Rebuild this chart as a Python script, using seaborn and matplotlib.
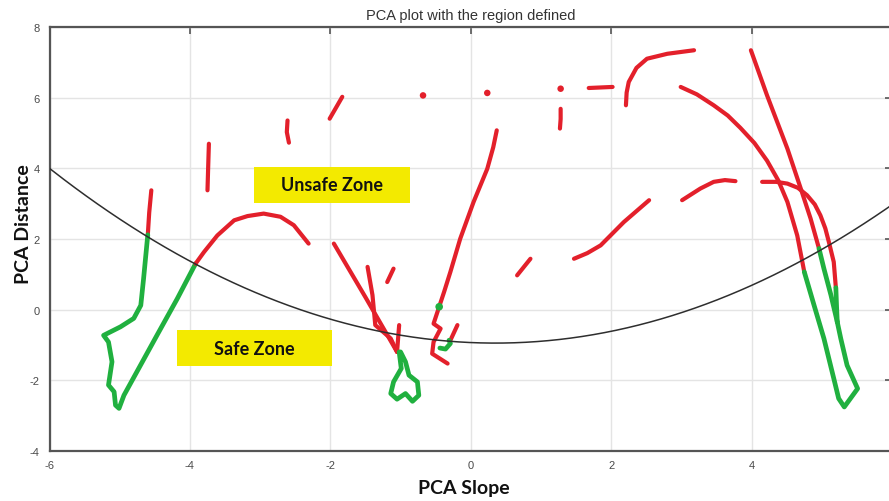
import numpy as np
import matplotlib
matplotlib.use("Agg")
import matplotlib.pyplot as plt
from matplotlib.patches import Rectangle
import seaborn as sns

# ---- trajectory segments (PCA slope, PCA distance) ----
RED = "#e3202b"
GREEN = "#20b03f"

r_left_x = [-4.55, -4.58, -4.60]
r_left_y = [3.38, 2.75, 2.12]

g_left_x = [-4.60, -4.61, -4.66, -4.70, -4.80, -4.99, -5.23, -5.16, -5.11, -5.16,
            -5.08, -5.06, -5.01, -4.94, -4.47, -4.18, -3.92]
g_left_y = [2.12, 1.92, 0.88, 0.12, -0.25, -0.49, -0.73, -0.92, -1.48, -2.14,
            -2.33, -2.71, -2.80, -2.43, -0.73, 0.31, 1.30]

r_arc_x = [-3.92, -3.80, -3.61, -3.37, -3.18, -2.95, -2.71, -2.52, -2.31]
r_arc_y = [1.30, 1.63, 2.10, 2.53, 2.65, 2.72, 2.63, 2.39, 1.87]

r_a_x = [-3.73, -3.74, -3.75]
r_a_y = [4.70, 4.05, 3.38]
r_b_x = [-2.61, -2.62, -2.59]
r_b_y = [5.36, 5.03, 4.73]
r_c_x = [-1.83, -1.92, -2.01]
r_c_y = [6.03, 5.72, 5.41]

r_rise_x = [0.37, 0.32, 0.235, 0.04, -0.15, -0.29, -0.38, -0.45, -0.53, -0.43, -0.53, -0.55, -0.33]
r_rise_y = [5.08, 4.60, 3.99, 3.05, 2.01, 1.07, 0.50, 0.08, -0.40, -0.54, -0.92, -1.25, -1.53]
r_tick_x = [-0.19, -0.29]
r_tick_y = [-0.44, -0.87]
g_hook_x = [-0.44, -0.36, -0.29, -0.31]
g_hook_y = [-1.09, -1.12, -0.96, -0.87]

r_diag_x = [-1.95, -1.50, -1.05]
r_diag_y = [1.87, 0.35, -1.20]
r_diag2_x = [-1.47, -1.40, -1.36, -1.14, -1.05]
r_diag2_y = [1.21, 0.41, -0.44, -0.82, -1.20]
r_short_x = [-1.02, -1.05]
r_short_y = [-0.44, -1.20]
r_dash_x = [-1.10, -1.19]
r_dash_y = [1.16, 0.78]
g_loop_x = [-1.02, -0.99, -1.10, -1.14, -1.05, -0.93, -0.83, -0.74, -0.76, -0.88, -0.93, -1.00]
g_loop_y = [-1.20, -1.67, -2.05, -2.38, -2.54, -2.38, -2.60, -2.43, -2.05, -1.86, -1.48, -1.20]

r_m1_x = [0.66, 0.85]
r_m1_y = [0.97, 1.44]
r_m2_x = [1.47, 1.66, 1.85, 2.18, 2.54]
r_m2_y = [1.44, 1.60, 1.82, 2.48, 3.10]
r_m3_x = [3.01, 3.27, 3.46, 3.62, 3.77]
r_m3_y = [3.10, 3.43, 3.62, 3.67, 3.64]

r_t3_x = [4.15, 4.35, 4.51, 4.66, 4.79, 4.90, 4.98, 5.05, 5.10, 5.17, 5.20]
r_t3_y = [3.62, 3.62, 3.57, 3.45, 3.24, 2.98, 2.67, 2.30, 1.92, 1.35, 0.62]
g_t3_x = [5.20, 5.21, 5.22]
g_t3_y = [0.62, 0.10, -0.35]

r_t1_x = [2.99, 3.22, 3.46, 3.66, 3.84, 4.04, 4.22, 4.38, 4.51, 4.65, 4.75]
r_t1_y = [6.31, 6.10, 5.79, 5.50, 5.15, 4.72, 4.22, 3.66, 3.05, 2.10, 1.07]
g_t1_x = [4.75, 4.89, 5.03, 5.17, 5.24, 5.32, 5.51, 5.36, 5.27, 5.22]
g_t1_y = [1.07, 0.12, -0.82, -1.95, -2.52, -2.76, -2.24, -1.58, -0.82, -0.35]

r_t2_x = [3.99, 4.22, 4.51, 4.70, 4.84, 4.96]
r_t2_y = [7.35, 6.07, 4.56, 3.43, 2.58, 1.73]
g_t2_x = [4.96, 5.03, 5.13, 5.22]
g_t2_y = [1.73, 1.16, 0.41, -0.35]

r_top1_x = [1.68, 2.02]
r_top1_y = [6.28, 6.31]
r_top2_x = [2.21, 2.22, 2.25, 2.36, 2.51, 2.80, 3.18]
r_top2_y = [5.79, 6.15, 6.45, 6.85, 7.11, 7.25, 7.35]
r_top3_x = [1.27, 1.28, 1.28]
r_top3_y = [5.13, 5.40, 5.69]

red_dots_x = [-0.68, 0.235, 1.28]
red_dots_y = [6.07, 6.14, 6.26]
green_dots_x = [-0.45]
green_dots_y = [0.08]

# quadratic decision boundary  y = a x^2 + b x + c
boundary_coeffs = [0.1228, -0.086, -0.935]

x_ticks = [-6, -4, -2, 0, 2, 4, 6]
y_ticks = [-4, -2, 0, 2, 4, 6, 8]

segments = [
    (r_left_x, r_left_y, RED), (g_left_x, g_left_y, GREEN), (r_arc_x, r_arc_y, RED),
    (r_a_x, r_a_y, RED), (r_b_x, r_b_y, RED), (r_c_x, r_c_y, RED),
    (r_rise_x, r_rise_y, RED), (r_tick_x, r_tick_y, RED), (g_hook_x, g_hook_y, GREEN),
    (r_diag_x, r_diag_y, RED), (r_diag2_x, r_diag2_y, RED), (r_short_x, r_short_y, RED),
    (r_dash_x, r_dash_y, RED), (g_loop_x, g_loop_y, GREEN),
    (r_m1_x, r_m1_y, RED), (r_m2_x, r_m2_y, RED), (r_m3_x, r_m3_y, RED),
    (r_t1_x, r_t1_y, RED), (r_t2_x, r_t2_y, RED), (r_t3_x, r_t3_y, RED),
    (g_t1_x, g_t1_y, GREEN), (g_t2_x, g_t2_y, GREEN), (g_t3_x, g_t3_y, GREEN),
    (r_top1_x, r_top1_y, RED), (r_top2_x, r_top2_y, RED), (r_top3_x, r_top3_y, RED),
]

sns.set_theme(style="white")
plt.rcParams["font.family"] = ["Liberation Sans", "DejaVu Sans"]
plt.rcParams["axes.unicode_minus"] = False

fig = plt.figure(figsize=(8.89, 5.02), dpi=100)
ax = fig.add_axes([0.0557, 0.1002, 0.9477, 0.8434])

ax.set_xlim(-6, 6)
ax.set_ylim(-4, 8)
ax.set_xticks(x_ticks)
ax.set_yticks(y_ticks)
ax.grid(True, color="#e4e4e4", linewidth=1.0)
ax.set_axisbelow(True)

# boundary curve
bx = np.linspace(-6, 6, 300)
sns.lineplot(x=bx, y=np.polyval(boundary_coeffs, bx), ax=ax, color="#2e2e2e",
             linewidth=1.1, zorder=4)

for xs, ys, col in segments:
    lw = 3.4 if col == GREEN else 3.0
    sns.lineplot(x=xs, y=ys, sort=False, ax=ax, color=col, linewidth=lw,
                 estimator=None, zorder=3)
for ln in ax.get_lines():
    ln.set_solid_capstyle("round")
    ln.set_solid_joinstyle("round")

sns.scatterplot(x=red_dots_x, y=red_dots_y, ax=ax, color=RED, s=22, edgecolor="none", zorder=3)
sns.scatterplot(x=green_dots_x, y=green_dots_y, ax=ax, color=GREEN, s=30, edgecolor="none", zorder=5)

# zone labels
zone_font = ["Lato", "DejaVu Sans"]
for (x0, y0, w, h, label) in [(-3.09, 3.03, 2.23, 1.02, "Unsafe Zone"),
                              (-4.19, -1.61, 2.21, 1.02, "Safe Zone")]:
    ax.add_patch(Rectangle((x0, y0), w, h, facecolor="#f3ea00", edgecolor="none", zorder=6))
    ax.text(x0 + w / 2, y0 + h / 2, label, ha="center", va="center", fontsize=13,
            fontweight="bold", family=zone_font, color="#111111", zorder=7)

ax.set_title("PCA plot with the region defined", fontsize=10.5, color="#333333", pad=6)
ax.set_xlabel("PCA Slope", fontsize=14, fontweight="bold", family=zone_font, color="#111111")
ax.set_ylabel("PCA Distance", fontsize=14, fontweight="bold", family=zone_font, color="#111111")
ax.xaxis.set_label_coords(0.492, -0.068)
ax.yaxis.set_label_coords(-0.021, 0.538)

ax.tick_params(axis="both", direction="in", length=5, width=1.2, color="#555555",
               labelsize=8, labelcolor="#4a4a4a", top=True, right=True, pad=7)
for sp in ax.spines.values():
    sp.set_color("#555555")
    sp.set_linewidth(1.6)

fig.savefig("out.png", dpi=100)
